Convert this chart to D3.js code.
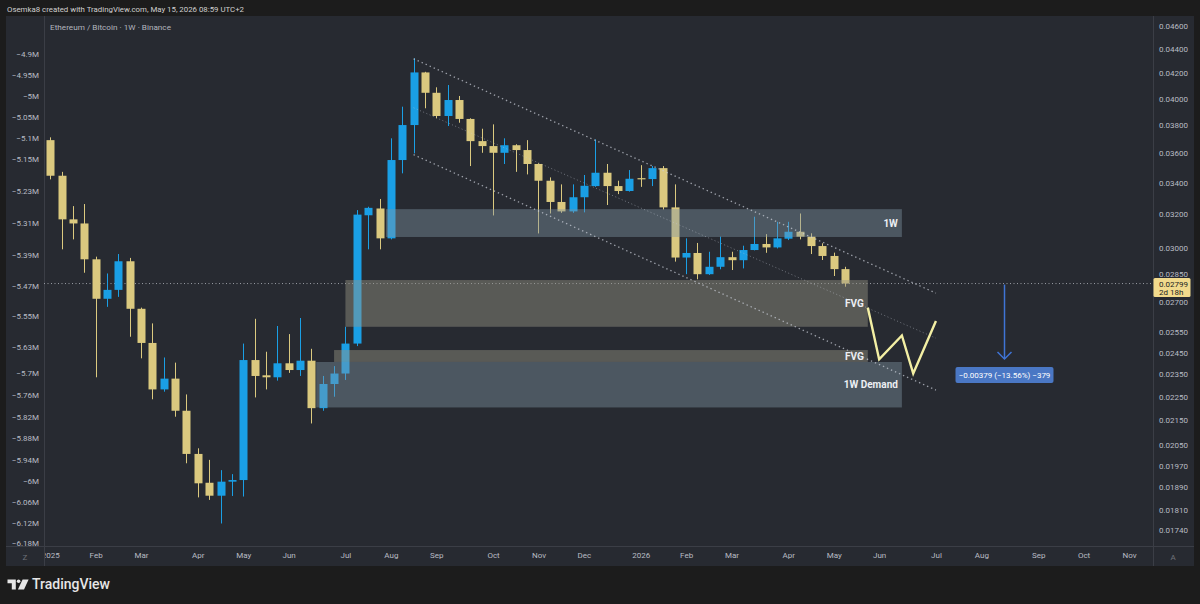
<!DOCTYPE html>
<html><head><meta charset="utf-8">
<script src="https://cdn.jsdelivr.net/npm/d3@7"></script>
<style>html,body{margin:0;padding:0;background:#1c1c1c;overflow:hidden}svg{display:block}</style>
</head><body>
<svg id="chart" width="1200" height="604"></svg>
<script>
// ---------- DATA ----------
const weeks = ["2025-01-06","2025-01-13","2025-01-20","2025-01-27","2025-02-03","2025-02-10","2025-02-17","2025-02-24",
"2025-03-03","2025-03-10","2025-03-17","2025-03-24","2025-03-31","2025-04-07","2025-04-14","2025-04-21","2025-04-28",
"2025-05-05","2025-05-12","2025-05-19","2025-05-26","2025-06-02","2025-06-09","2025-06-16","2025-06-23","2025-06-30",
"2025-07-07","2025-07-14","2025-07-21","2025-07-28","2025-08-04","2025-08-11","2025-08-18","2025-08-25","2025-09-01",
"2025-09-08","2025-09-15","2025-09-22","2025-09-29","2025-10-06","2025-10-13","2025-10-20","2025-10-27","2025-11-03",
"2025-11-10","2025-11-17","2025-11-24","2025-12-01","2025-12-08","2025-12-15","2025-12-22","2025-12-29","2026-01-05",
"2026-01-12","2026-01-19","2026-01-26","2026-02-02","2026-02-09","2026-02-16","2026-02-23","2026-03-02","2026-03-09",
"2026-03-16","2026-03-23","2026-03-30","2026-04-06","2026-04-13","2026-04-20","2026-04-27","2026-05-04","2026-05-11"];
const opens = [0.03691,0.03446,0.03168,0.03143,0.02933,0.02718,0.02765,0.02922,0.02666,0.02496,0.02282,0.02330,0.02190,
0.02015,0.01906,0.01859,0.01910,0.01916,0.02415,0.02345,0.02336,0.02400,0.02369,0.02412,0.02201,0.02306,0.02353,0.02493,
0.03193,0.03235,0.03054,0.03552,0.03800,0.04206,0.04044,0.03867,0.03988,0.03845,0.03684,0.03649,0.03602,0.03655,0.03621,
0.03525,0.03413,0.03276,0.03217,0.03306,0.03378,0.03466,0.03378,0.03346,0.03430,0.03424,0.03497,0.03242,0.02943,0.02969,
0.02850,0.02891,0.02945,0.02928,0.02986,0.03021,0.03001,0.03052,0.03093,0.03064,0.03009,0.02952,0.02878];
const highs = [0.03711,0.03472,0.03250,0.03263,0.02948,0.02854,0.02963,0.02941,0.02672,0.02592,0.02427,0.02403,0.02260,
0.02037,0.01992,0.01953,0.01938,0.02493,0.02615,0.02454,0.02579,0.02539,0.02619,0.02468,0.02342,0.02387,0.02575,0.03225,
0.03246,0.03295,0.03704,0.03937,0.04322,0.04211,0.04087,0.04105,0.04019,0.03850,0.03773,0.03805,0.03704,0.03662,0.03691,
0.03530,0.03435,0.03389,0.03389,0.03451,0.03696,0.03525,0.03413,0.03484,0.03517,0.03511,0.03511,0.03389,0.03054,0.03027,
0.02976,0.03064,0.02976,0.03011,0.03184,0.03079,0.03153,0.03153,0.03204,0.03084,0.03025,0.02971,0.02891];
const lows = [0.03422,0.02990,0.03048,0.02858,0.02336,0.02676,0.02728,0.02526,0.02423,0.02239,0.02272,0.02165,0.01979,
0.01853,0.01844,0.01762,0.01858,0.01856,0.02247,0.02282,0.02321,0.02356,0.02342,0.02137,0.02190,0.02250,0.02324,0.02481,
0.02990,0.02990,0.03048,0.03462,0.03598,0.03925,0.03850,0.03793,0.03817,0.03511,0.03602,0.03192,0.03525,0.03472,0.03455,
0.03083,0.03204,0.03208,0.03208,0.03211,0.03373,0.03257,0.03326,0.03342,0.03373,0.03378,0.03229,0.02920,0.02850,0.02822,
0.02846,0.02877,0.02873,0.02882,0.02984,0.02970,0.02995,0.03044,0.03048,0.02963,0.02929,0.02840,0.02782];
const closes = [0.03446,0.03168,0.03143,0.02933,0.02718,0.02765,0.02922,0.02666,0.02496,0.02282,0.02330,0.02190,0.02015,
0.01904,0.01859,0.01910,0.01916,0.02415,0.02342,0.02336,0.02400,0.02369,0.02412,0.02201,0.02306,0.02353,0.02493,0.03197,
0.03239,0.03054,0.03552,0.03800,0.04206,0.04044,0.03867,0.03988,0.03845,0.03684,0.03649,0.03602,0.03655,0.03621,0.03525,
0.03413,0.03276,0.03217,0.03306,0.03380,0.03466,0.03378,0.03346,0.03426,0.03424,0.03497,0.03242,0.02943,0.02969,0.02850,
0.02891,0.02945,0.02928,0.02986,0.03021,0.03001,0.03054,0.03093,0.03064,0.03009,0.02952,0.02878,0.02799];

const priceTicks = [0.046,0.044,0.042,0.040,0.038,0.036,0.034,0.032,0.030,0.0285,0.027,0.0255,0.0245,0.0235,0.0225,0.0215,0.0205,0.0197,0.0189,0.0181,0.0174];
const leftTicks = [4.9,4.95,5,5.05,5.1,5.15,5.23,5.31,5.39,5.47,5.55,5.63,5.7,5.76,5.82,5.88,5.94,6,6.06,6.12,6.18];
const timeTickDates = ["2025-01-06","2025-02-03","2025-03-03","2025-04-07","2025-05-05","2025-06-02","2025-07-07","2025-08-04",
"2025-09-01","2025-10-06","2025-11-03","2025-12-01","2026-01-05","2026-02-02","2026-03-02","2026-04-06","2026-05-04",
"2026-06-01","2026-07-06","2026-08-03","2026-09-07","2026-10-05","2026-11-02"];
const timeTickLabels = ["2025","Feb","Mar","Apr","May","Jun","Jul","Aug","Sep","Oct","Nov","Dec","2026","Feb","Mar","Apr","May","Jun","Jul","Aug","Sep","Oct","Nov"];

// zones
const zoneStart = ["2025-08-01","2025-07-07","2025-06-30","2025-06-19"];
const zoneEnd   = ["2026-06-15","2026-05-25","2026-05-25","2026-06-15"];
const zoneTop   = [0.03231,0.02818,0.02462,0.02406];
const zoneBottom= [0.03062,0.02575,0.02406,0.02204];
const zoneLabel = ["1W","FVG","FVG","1W Demand"];
const zoneKind  = ["struct","fvg","fvg","struct"];

// channel lines
const channelStart = "2025-08-18", channelEnd = "2026-07-06";
const channelStartPrice = [0.04318,0.03929,0.03589];
const channelEndPrice   = [0.02748,0.02519,0.02279];
const channelKind = ["edge","mid","edge"];

// projected path
const pathDates  = ["2026-05-25","2026-06-01","2026-06-15","2026-06-22","2026-07-06"];
const pathPrices = [0.02672,0.02418,0.02532,0.02353,0.02604];

// measure arrow
const arrowDate = "2026-08-17";
const arrowFrom = 0.02799, arrowTo = 0.02420;
const arrowText = "\u22120.00379 (\u221213.56%) \u2212379";

const lastPrice = 0.02799, lastCountdown = "2d 18h";
const headerText = "Osemka8 created with TradingView.com, May 15, 2026 08:59 UTC+2";
const legendText = "Ethereum / Bitcoin \u00b7 1W \u00b7 Binance";

// ---------- LAYOUT ----------
const P = {left:44, right:1153, top:16, bottom:546, panelL:6, panelR:1194, axisB:566};
const C = {bg:"#1c1c1c", panel:"#272a31", line:"#3b3e46", text:"#b9bcc4", bull:"#1a9fe5", bear:"#dbc97f"};
const FONT = "Roboto, 'Liberation Sans', sans-serif";
const parse = d3.utcParse("%Y-%m-%d");

const x = d3.scaleUtc().domain([parse("2025-02-03"), parse("2026-11-02")]).range([95.6, 1129]);
const y = d3.scaleLog().domain([0.0174, 0.046]).range([530, 26]);
const yLeft = d3.scaleLog().domain([4.95, 6.18]).range([75, 543.3]);

const svg = d3.select("#chart");
svg.append("rect").attr("width",1200).attr("height",604).attr("fill",C.bg);
svg.append("rect").attr("x",P.panelL).attr("y",P.top).attr("width",P.panelR-P.panelL).attr("height",P.axisB-P.top).attr("fill",C.panel);

const defs = svg.append("defs");
defs.append("clipPath").attr("id","plotClip").append("rect")
  .attr("x",P.left).attr("y",P.top).attr("width",P.right-P.left).attr("height",P.bottom-P.top);
defs.append("clipPath").attr("id","timeClip").append("rect")
  .attr("x",P.left+1).attr("y",P.bottom).attr("width",P.right-P.left).attr("height",P.axisB-P.bottom);

// header
svg.append("text").attr("x",7).attr("y",11.5).attr("fill","#d0d0d0").attr("font-family",FONT)
  .attr("font-size",8).attr("textLength",237).attr("lengthAdjust","spacingAndGlyphs").text(headerText);

// separators
svg.append("line").attr("x1",P.left+0.5).attr("x2",P.left+0.5).attr("y1",P.top).attr("y2",P.axisB).attr("stroke",C.line);
svg.append("line").attr("x1",P.right+0.5).attr("x2",P.right+0.5).attr("y1",P.top).attr("y2",P.axisB).attr("stroke",C.line);
svg.append("line").attr("x1",P.panelL).attr("x2",P.panelR).attr("y1",P.bottom+0.5).attr("y2",P.bottom+0.5).attr("stroke",C.line);

const plot = svg.append("g").attr("clip-path","url(#plotClip)");

// legend
svg.append("text").attr("x",50).attr("y",30).attr("fill","#b2b5be").attr("font-family",FONT)
  .attr("font-size",8).attr("textLength",121).attr("lengthAdjust","spacingAndGlyphs").text(legendText);

// current price line
plot.append("line").attr("x1",P.left).attr("x2",P.right).attr("y1",y(lastPrice)).attr("y2",y(lastPrice))
  .attr("stroke","#9a9da5").attr("stroke-width",1).attr("stroke-dasharray","1,2.5");

// candles
const candles = weeks.map((w,i)=>({d:parse(w),o:opens[i],h:highs[i],l:lows[i],c:closes[i]}));
const bw = 8;
const cg = plot.append("g");
const cs = cg.selectAll("g").data(candles).join("g");
cs.append("line")
  .attr("x1",d=>Math.round(x(d.d))+0.5).attr("x2",d=>Math.round(x(d.d))+0.5)
  .attr("y1",d=>y(d.h)).attr("y2",d=>y(d.l))
  .attr("stroke",d=>d.c>=d.o?C.bull:C.bear).attr("stroke-width",1);
cs.append("rect")
  .attr("x",d=>Math.round(x(d.d))+0.5-bw/2).attr("width",bw)
  .attr("y",d=>y(Math.max(d.o,d.c)))
  .attr("height",d=>Math.max(1.2, y(Math.min(d.o,d.c))-y(Math.max(d.o,d.c))))
  .attr("fill",d=>d.c>=d.o?C.bull:C.bear);

// zones
const zones = zoneStart.map((s,i)=>({s:parse(s),e:parse(zoneEnd[i]),t:zoneTop[i],b:zoneBottom[i],label:zoneLabel[i],k:zoneKind[i]}));
const zg = plot.append("g");
zg.selectAll("rect").data(zones).join("rect")
  .attr("x",d=>x(d.s)).attr("width",d=>x(d.e)-x(d.s))
  .attr("y",d=>y(d.t)).attr("height",d=>y(d.b)-y(d.t))
  .attr("fill",d=>d.k==="fvg"?"rgba(150,148,132,0.45)":"rgba(128,150,165,0.42)");
zg.selectAll("text").data(zones).join("text")
  .attr("x",d=>x(d.e)-4).attr("y",d=>(y(d.t)+y(d.b))/2).attr("dy","0.35em")
  .attr("text-anchor","end").attr("fill","#eceff3").attr("font-family",FONT)
  .attr("font-size",10).attr("font-weight",700).text(d=>d.label);

// channel
const lg = plot.append("g");
channelStartPrice.forEach((p,i)=>{
  lg.append("line").attr("x1",x(parse(channelStart))).attr("y1",y(p))
    .attr("x2",x(parse(channelEnd))).attr("y2",y(channelEndPrice[i]))
    .attr("stroke",channelKind[i]==="mid"?"rgba(200,205,215,0.45)":"rgba(205,210,220,0.7)")
    .attr("stroke-width",channelKind[i]==="mid"?1:1.3)
    .attr("stroke-dasharray",channelKind[i]==="mid"?"1,2.5":"1.4,3")
    .attr("stroke-linecap","butt");
});

// projected zigzag
plot.append("path")
  .datum(pathDates.map((d,i)=>[parse(d),pathPrices[i]]))
  .attr("d",d3.line().x(d=>x(d[0])).y(d=>y(d[1])))
  .attr("fill","none").attr("stroke","#f3efa4").attr("stroke-width",2.4).attr("stroke-linejoin","miter");

// measure arrow
const ax = Math.round(x(parse(arrowDate)))+0.5;
plot.append("line").attr("x1",ax).attr("x2",ax).attr("y1",y(arrowFrom)+1).attr("y2",y(arrowTo))
  .attr("stroke","#3f74d6").attr("stroke-width",1.5);
plot.append("path").attr("d",`M${ax-7},${y(arrowTo)-7}L${ax},${y(arrowTo)}L${ax+7},${y(arrowTo)-7}`)
  .attr("fill","none").attr("stroke","#3f74d6").attr("stroke-width",1.5);
const mlY = y(arrowTo)+8;
plot.append("rect").attr("x",ax-49).attr("y",mlY).attr("width",98).attr("height",16).attr("rx",2)
  .attr("fill","#4a77c4");
plot.append("text").attr("x",ax).attr("y",mlY+8).attr("dy","0.35em").attr("text-anchor","middle")
  .attr("fill","#ffffff").attr("font-family",FONT).attr("font-size",8).text(arrowText);

// right axis
const rAxis = svg.append("g").attr("transform",`translate(${P.right},0)`)
  .call(d3.axisRight(y).tickValues(priceTicks).tickFormat(d3.format(".5f")).tickSize(0).tickPadding(6));
rAxis.select(".domain").remove();
rAxis.selectAll("text").attr("fill",C.text).attr("font-family",FONT).attr("font-size",8);

// price label
const ply = y(lastPrice);
svg.append("rect").attr("x",P.right+0.5).attr("y",ply-5.5).attr("width",37).attr("height",19).attr("rx",1.5).attr("fill","#f2da8c");
svg.append("text").attr("x",P.right+6).attr("y",ply+1).attr("dy","0.35em").attr("fill","#1b1d22")
  .attr("font-family",FONT).attr("font-size",8).text(d3.format(".5f")(lastPrice));
svg.append("text").attr("x",P.right+6).attr("y",ply+9).attr("dy","0.35em").attr("fill","#1b1d22")
  .attr("font-family",FONT).attr("font-size",8).text(lastCountdown);

// left axis
const lAxis = svg.append("g").attr("transform",`translate(${P.left},0)`)
  .call(d3.axisLeft(yLeft).tickValues(leftTicks).tickFormat(d=>"\u2212"+d+"M").tickSize(0).tickPadding(5));
lAxis.select(".domain").remove();
lAxis.selectAll("text").attr("fill",C.text).attr("font-family",FONT).attr("font-size",8);

// time axis
const tAxis = svg.append("g").attr("clip-path","url(#timeClip)").append("g").attr("transform",`translate(0,${P.bottom})`)
  .call(d3.axisBottom(x).tickValues(timeTickDates.map(parse)).tickFormat((d,i)=>timeTickLabels[i]).tickSize(0).tickPadding(6));
tAxis.select(".domain").remove();
tAxis.selectAll("text").attr("fill",C.text).attr("font-family",FONT).attr("font-size",8);

svg.append("text").attr("x",25).attr("y",557).attr("dy","0.35em").attr("text-anchor","middle")
  .attr("fill","#6f727a").attr("font-family",FONT).attr("font-size",8).text("Z");
svg.append("text").attr("x",1173).attr("y",557).attr("dy","0.35em").attr("text-anchor","middle")
  .attr("fill","#6f727a").attr("font-family",FONT).attr("font-size",8).text("A");

// TradingView logo
const logo = svg.append("g").attr("fill","#e6e6e6");
logo.append("path").attr("d","M7.5,579.5H15.8V589.5H11.8V583.3H7.5Z");
logo.append("circle").attr("cx",18.6).attr("cy",581.2).attr("r",1.8);
logo.append("path").attr("d","M22.6,579.5H28.6L24,589.5H17.9Z");
svg.append("text").attr("x",32).attr("y",589).attr("fill","#e6e6e6").attr("font-family",FONT)
  .attr("font-size",14).attr("font-weight",500).attr("textLength",78).attr("lengthAdjust","spacingAndGlyphs").text("TradingView");
</script>
</body></html>
